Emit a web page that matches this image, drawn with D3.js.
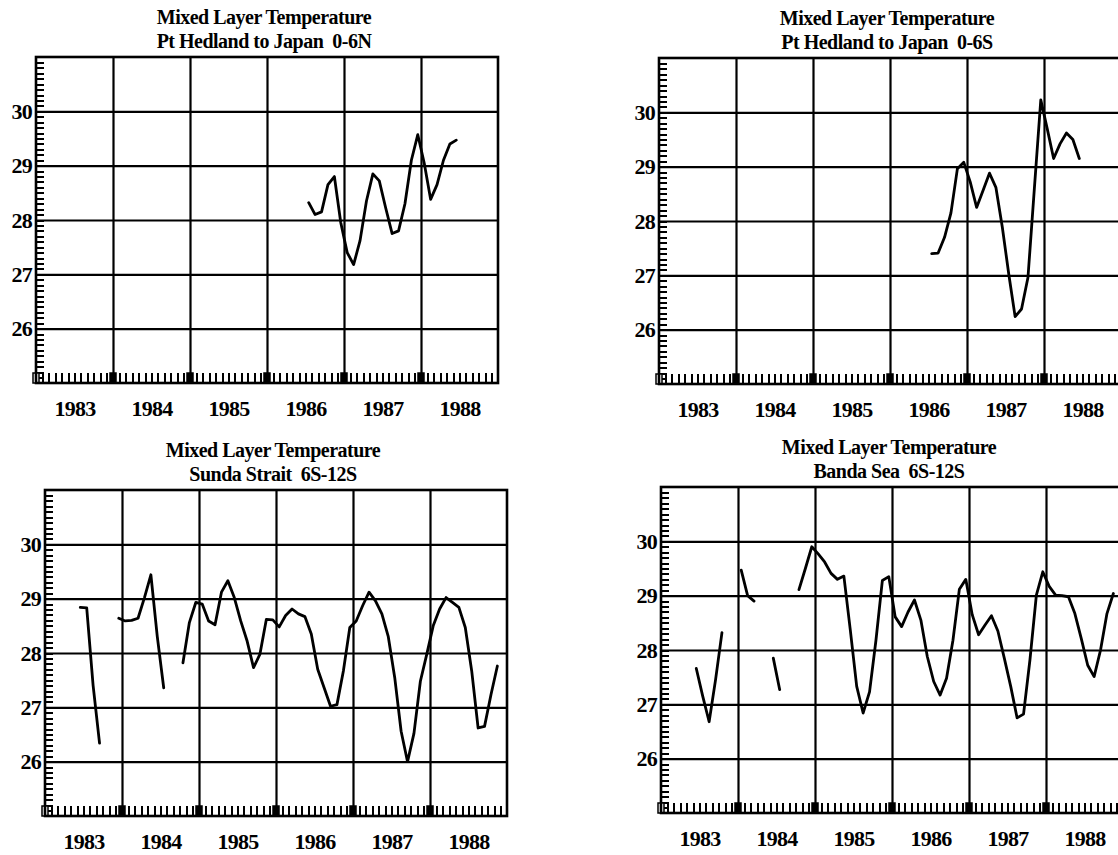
<!DOCTYPE html>
<html>
<head>
<meta charset="utf-8">
<script src="https://cdn.jsdelivr.net/npm/d3@7"></script>
<style>
  body { margin: 0; background: #fff; }
  svg { display: block; }
  text { font-family: "Liberation Serif", "Times New Roman", serif; font-weight: bold; fill: #000; }
</style>
</head>
<body>
<svg id="chart" width="1118" height="855"></svg>
<script>
// Axis content
const years = [1983, 1984, 1985, 1986, 1987, 1988];
const tempTicks = [26, 27, 28, 29, 30];
const titleLine = "Mixed Layer Temperature";
const regionNames = [
  "Pt Hedland to Japan  0-6N",
  "Pt Hedland to Japan  0-6S",
  "Sunda Strait  6S-12S",
  "Banda Sea  6S-12S"
];

// Monthly mixed layer temperature (deg C); month index 0 = Jan 1983, null = no data
const hedlandNorthStart = 42;
const hedlandNorth = [28.32, 28.10, 28.15, 28.65, 28.80, 27.95, 27.40, 27.18, 27.62, 28.35, 28.85, 28.72,
                      28.22, 27.75, 27.80, 28.30, 29.10, 29.57, 29.05, 28.38, 28.65, 29.10, 29.40, 29.47];

const hedlandSouthStart = 42;
const hedlandSouth = [27.40, 27.41, 27.70, 28.15, 28.96, 29.08, 28.72, 28.25, 28.56, 28.88, 28.62, 27.89,
                      27.03, 26.24, 26.38, 26.96, 28.60, 30.23, 29.70, 29.15, 29.42, 29.62, 29.50, 29.15];

const sundaStart = 5;
const sunda = [28.84, 28.83, 27.40, 26.34, null, null,
               28.64, 28.59, 28.60, 28.64, 29.02, 29.44, 28.30, 27.36, null, null,
               27.82, 28.56, 28.93, 28.90, 28.59, 28.52, 29.12, 29.33, 29.02, 28.59,
               28.22, 27.73, 27.98, 28.62, 28.61, 28.48, 28.69, 28.81, 28.72, 28.67,
               28.35, 27.70, 27.36, 27.02, 27.05, 27.67, 28.47, 28.59, 28.87, 29.12,
               28.96, 28.72, 28.30, 27.55, 26.56, 26.00, 26.52, 27.48, 27.98, 28.50,
               28.81, 29.02, 28.93, 28.84, 28.47, 27.67, 26.62, 26.65, 27.23, 27.76];

const bandaStart = 5;
const banda = [27.66, 27.15, 26.68, 27.45, 28.32, null, null,
               29.47, 29.00, 28.90, null, null,
               27.85, 27.27, null, null,
               29.11, 29.50, 29.90, 29.77, 29.62, 29.41, 29.30, 29.36, 28.37, 27.33,
               26.84, 27.23, 28.18, 29.28, 29.35, 28.61, 28.43, 28.70, 28.92, 28.55,
               27.88, 27.42, 27.17, 27.48, 28.18, 29.12, 29.30, 28.65, 28.28, 28.46,
               28.63, 28.35, 27.85, 27.33, 26.75, 26.82, 27.82, 29.01, 29.44, 29.17,
               29.01, 29.00, 28.98, 28.67, 28.21, 27.72, 27.51, 28.00, 28.67, 29.04];

const panels = [
  { left: 36,  top: 57,  name: regionNames[0], start: hedlandNorthStart, values: hedlandNorth },
  { left: 659, top: 58,  name: regionNames[1], start: hedlandSouthStart, values: hedlandSouth },
  { left: 45,  top: 490, name: regionNames[2], start: sundaStart,        values: sunda },
  { left: 661, top: 487, name: regionNames[3], start: bandaStart,        values: banda }
];

const W = 462, H = 326;
const svg = d3.select("#chart");
svg.append("rect").attr("width", 1118).attr("height", 855).attr("fill", "#fff");

panels.forEach(p => {
  const x = d3.scaleLinear().domain([1983, 1989]).range([p.left, p.left + W]);
  const y = d3.scaleLinear().domain([25, 31]).range([p.top + H, p.top]);
  const g = svg.append("g");

  // titles
  const titleStyle = t => t.attr("text-anchor", "middle").attr("dominant-baseline", "central")
    .style("font-size", "20px").style("letter-spacing", "-0.5px").style("white-space", "pre");
  g.append("text").attr("x", p.left + W / 2 - 3).attr("y", p.top - 40).call(titleStyle).text(titleLine);
  g.append("text").attr("x", p.left + W / 2 - 3).attr("y", p.top - 16).call(titleStyle).text(p.name);

  // grid lines
  g.append("g").attr("transform", `translate(0,${p.top + H})`)
    .call(d3.axisBottom(x).tickValues(years.slice(1)).tickSize(-H).tickFormat(""))
    .call(a => a.select(".domain").remove())
    .call(a => a.selectAll("line").attr("stroke", "#000").attr("stroke-width", 2.2));
  g.append("g").attr("transform", `translate(${p.left},0)`)
    .call(d3.axisLeft(y).tickValues(tempTicks).tickSize(-W).tickFormat(""))
    .call(a => a.select(".domain").remove())
    .call(a => a.selectAll("line").attr("stroke", "#000").attr("stroke-width", 2.2));

  // fine temperature ticks (0.1 deg) along the left edge
  const fine = d3.range(251, 310).map(v => v / 10);
  g.append("g").attr("transform", `translate(${p.left},0)`)
    .call(d3.axisRight(y).tickValues(fine).tickSize(8).tickFormat(""))
    .call(a => a.select(".domain").remove())
    .call(a => a.selectAll("line").attr("stroke", "#000").attr("stroke-width", 2)
      .attr("shape-rendering", "crispEdges"));

  // monthly ticks along the bottom edge
  const months = d3.range(1, 72).filter(m => m % 12 !== 0).map(m => 1983 + m / 12);
  g.append("g").attr("transform", `translate(0,${p.top + H})`)
    .call(d3.axisTop(x).tickValues(months).tickSize(10).tickFormat(""))
    .call(a => a.select(".domain").remove())
    .call(a => a.selectAll("line").attr("stroke", "#000").attr("stroke-width", 2)
      .attr("shape-rendering", "crispEdges"));

  // year markers on the bottom edge
  g.selectAll("rect.yr").data(years).join("rect")
    .attr("x", d => x(d) - 3).attr("y", p.top + H - 10)
    .attr("width", 6).attr("height", 10)
    .attr("fill", d => d === 1983 ? "#fff" : "#000")
    .attr("stroke", "#000").attr("stroke-width", 1.5);

  // frame
  g.append("rect").attr("x", p.left).attr("y", p.top).attr("width", W).attr("height", H)
    .attr("fill", "none").attr("stroke", "#000").attr("stroke-width", 2.6);

  // tick labels
  g.append("g").attr("transform", `translate(0,${p.top + H})`)
    .call(d3.axisBottom(x).tickValues(years.map(v => v + 0.5)).tickSize(0).tickPadding(17)
      .tickFormat(v => String(Math.floor(v))))
    .call(a => a.select(".domain").remove())
    .call(a => a.selectAll("text").style("font-size", "22px").style("letter-spacing", "-0.8px")
      .attr("font-family", null));
  g.append("g").attr("transform", `translate(${p.left},0)`)
    .call(d3.axisLeft(y).tickValues(tempTicks).tickSize(0).tickPadding(4).tickFormat(d3.format("d")))
    .call(a => a.select(".domain").remove())
    .call(a => a.selectAll("text").style("font-size", "22px").style("letter-spacing", "-0.8px")
      .attr("font-family", null));

  // temperature series
  const pts = p.values.map((v, i) => ({ t: 1983 + (p.start + i + 0.5) / 12, v }));
  const line = d3.line().defined(d => d.v !== null).x(d => x(d.t)).y(d => y(d.v));
  g.append("path").datum(pts).attr("d", line)
    .attr("fill", "none").attr("stroke", "#000").attr("stroke-width", 2.8)
    .attr("stroke-linejoin", "round").attr("stroke-linecap", "round");
});
</script>
</body>
</html>
